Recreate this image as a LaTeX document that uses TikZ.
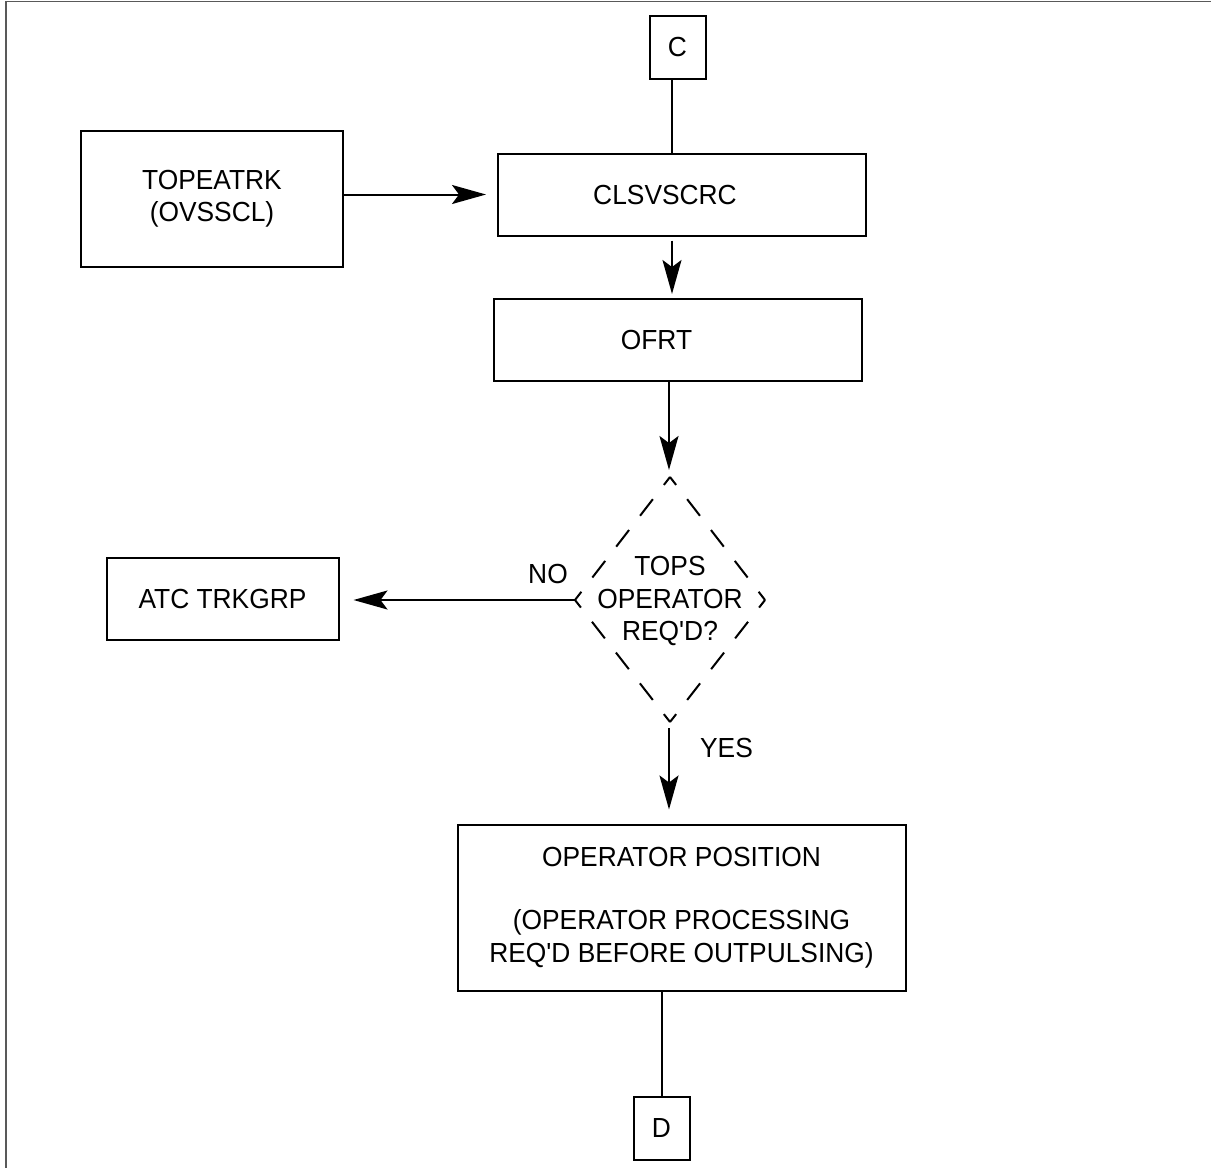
\documentclass[tikz,border=0pt]{standalone}
\usepackage{fontspec}
\newfontfamily\lblf{Liberation Sans}[FakeStretch=0.955]
\usetikzlibrary{arrows.meta}
\newcommand\lblfont{\lblf\fontsize{13.8pt}{16.2pt}\selectfont}
\tikzset{
  box/.style={draw, line width=1pt, inner sep=0pt, align=center, font=\lblfont},
  plain/.style={inner sep=0pt, align=center, font=\lblfont},
  conn/.style={line width=1pt},
  arr/.style={line width=1pt, -{Stealth[length=17pt, width=9.5pt, inset=3.5pt]}},
  dside/.style={line width=1pt, dash pattern=on 5pt off 9pt on 10.5pt off 9pt on 10.5pt off 9pt on 10.5pt off 9pt on 7pt},
}
\begin{document}
\begin{tikzpicture}[x=0.5pt, y=-0.5pt]
\useasboundingbox (0,0) rectangle (1211,1168);
% frame
\draw[line width=0.6pt, gray!70!black] (6,1168) -- (6,1.5) -- (1211,1.5);
% nodes
\node[box, minimum width=28pt, minimum height=31.5pt] (C) at (677.5,47) {C};
\node[box, minimum width=184pt, minimum height=41pt] (CLS) at (682,194.5) {CLSVSCRC\hspace*{17pt}};
\node[box, minimum width=131pt, minimum height=68pt] (TOP) at (212,199) {TOPEATRK\\(OVSSCL)};
\node[box, minimum width=184pt, minimum height=41pt] (OFRT) at (677.5,340) {OFRT\hspace*{21pt}};
\node[box, minimum width=116pt, minimum height=41pt] (ATC) at (222.5,599) {ATC TRKGRP};
\node[box, minimum width=224pt, minimum height=83pt] (OP) at (681.5,907.5) {OPERATOR POSITION\\[15.5pt](OPERATOR PROCESSING\\REQ'D BEFORE OUTPULSING)};
\node[box, minimum width=28pt, minimum height=31.5pt] (D) at (661.5,1128) {D};
% decision diamond
\coordinate (dT) at (670,477);
\coordinate (dL) at (575,600);
\coordinate (dR) at (765,600);
\coordinate (dB) at (670,722);
\draw[dside] (dT) -- (dL);
\draw[dside] (dT) -- (dR);
\draw[dside] (dB) -- (dL);
\draw[dside] (dB) -- (dR);
\node[plain] (Q) at (670,601) {TOPS\\OPERATOR\\REQ'D?};
% labels
\node[plain] (NO) at (548,574) {NO};
\node[plain] (YES) at (726.5,748) {YES};
% connectors
\draw[conn] ([xshift=-2.75pt]C.south) -- ([xshift=-2.75pt]C.south |- CLS.north);
\draw[arr, shorten >=5.5pt] (TOP.east |- CLS.west) -- (CLS.west);
\draw[arr, shorten <=2pt, shorten >=2pt] ([xshift=-5pt]CLS.south) -- ([xshift=-5pt]CLS.south |- OFRT.north);
\draw[arr, shorten >=3.5pt] ([xshift=-4.25pt]OFRT.south) -- ([xshift=-4.25pt]OFRT.south |- dT);
\draw[arr, shorten >=7pt] (dL) -- (dL -| ATC.east);
\draw[arr, shorten <=3pt, shorten >=7pt] ([xshift=-0.5pt]dB) -- ([xshift=-0.5pt]dB |- OP.north);
\draw[conn] (D.north |- OP.south) -- (D.north);
\end{tikzpicture}
\end{document}
